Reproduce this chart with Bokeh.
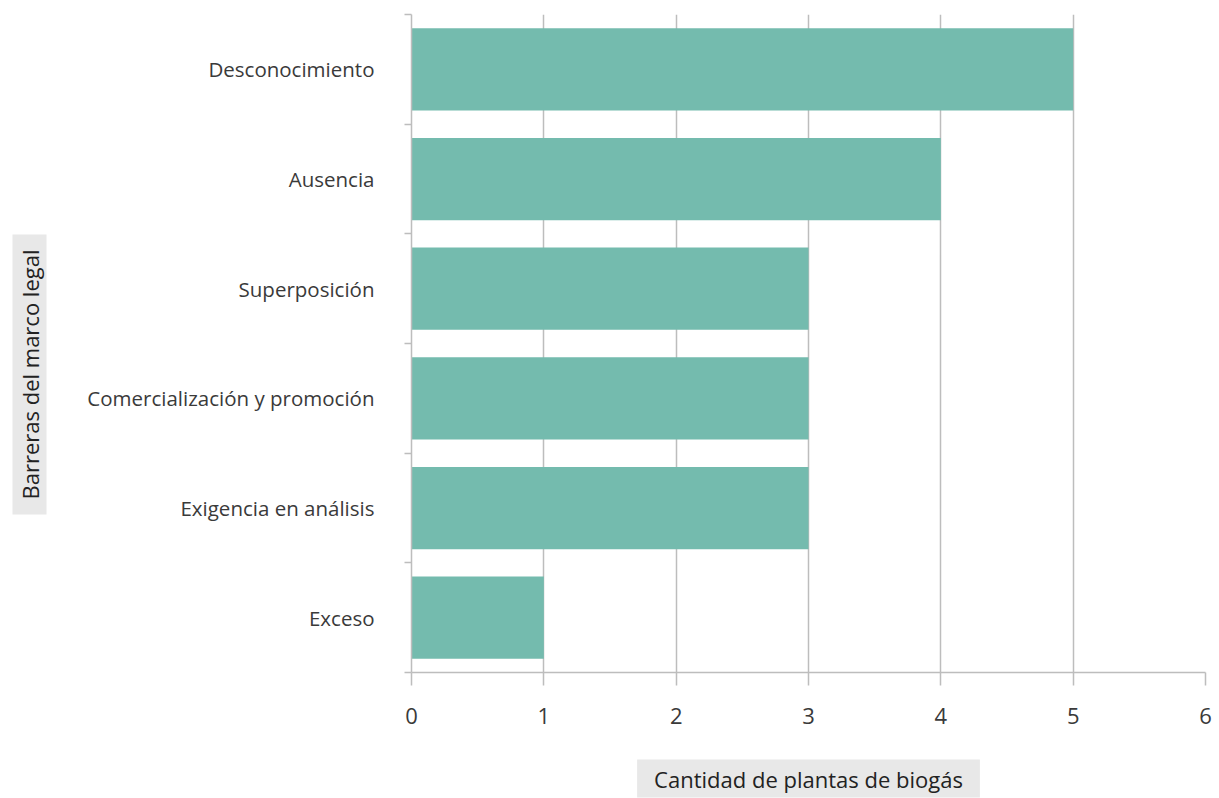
from bokeh.plotting import figure
from bokeh.models import FixedTicker, Title, Range1d, LinearAxis
from bokeh.embed import file_html
from bokeh.resources import INLINE

categories = ["Exceso", "Exigencia en análisis", "Comercialización y promoción",
              "Superposición", "Ausencia", "Desconocimiento"]
values = [1, 3, 3, 3, 4, 5]
x_ticks = [0, 1, 2, 3, 4, 5, 6]
x_title = "Cantidad de plantas de biogás"
y_title = "Barreras del marco legal"

positions = [i + 0.5 for i in range(len(categories))]
boundaries = list(range(len(categories) + 1))

FONT = "Open Sans"
TEXT = "#3a3a3a"
GRID = "#bdbdbd"

p = figure(width=1219, height=798, output_backend="svg", toolbar_location=None,
           x_range=Range1d(0, 6), y_range=Range1d(0, len(categories)),
           min_border_left=411, min_border_right=14, min_border_top=14,
           min_border_bottom=126)
p.outline_line_color = None

p.hbar(y=positions, right=values, left=0, height=0.75, color="#74BBAE", line_color=None)

# x axis
p.xaxis.ticker = FixedTicker(ticks=x_ticks)
p.xaxis.axis_line_color = GRID
p.xaxis.axis_line_width = 1.5
p.xaxis.major_tick_line_color = GRID
p.xaxis.major_tick_line_width = 1.5
p.xaxis.major_tick_in = 0
p.xaxis.major_tick_out = 13
p.xaxis.minor_tick_line_color = None
p.xaxis.major_label_text_font = FONT
p.xaxis.major_label_text_font_size = "22px"
p.xaxis.major_label_text_color = TEXT
p.xaxis.major_label_standoff = 22

# invisible spacer axis between tick labels and the x title
spacer = LinearAxis(ticker=FixedTicker(ticks=[x_ticks[0]]), axis_line_color=None,
                    major_tick_line_color=None, minor_tick_line_color=None,
                    major_tick_in=0, major_tick_out=31, minor_tick_out=0,
                    major_label_standoff=0,
                    major_label_overrides={x_ticks[0]: ""})
p.add_layout(spacer, "below")

# y axis: labels at centres, ticks at category boundaries
p.yaxis.ticker = FixedTicker(ticks=positions, minor_ticks=boundaries)
p.yaxis.major_label_overrides = {pos: cat for pos, cat in zip(positions, categories)}
p.yaxis.axis_line_color = GRID
p.yaxis.axis_line_width = 1.5
p.yaxis.major_tick_line_color = None
p.yaxis.major_tick_in = 0
p.yaxis.major_tick_out = 7
p.yaxis.minor_tick_line_color = GRID
p.yaxis.minor_tick_line_width = 1.5
p.yaxis.minor_tick_in = 0
p.yaxis.minor_tick_out = 7
p.yaxis.major_label_text_font = FONT
p.yaxis.major_label_text_font_size = "20.5px"
p.yaxis.major_label_text_color = TEXT
p.yaxis.major_label_standoff = 30

p.xgrid.ticker = FixedTicker(ticks=x_ticks)
p.xgrid.grid_line_color = GRID
p.xgrid.grid_line_width = 1.5
p.ygrid.grid_line_color = None

xt = Title(text=x_title, align="center",
           text_font=FONT, text_font_size="22px", text_font_style="normal",
           text_color="#222222", background_fill_color="#e8e8e8",
           padding=(17, 4), standoff=0, vertical_align="bottom")
p.add_layout(xt, "below")

yt = Title(text=y_title, align="left", offset=158,
           text_font=FONT, text_font_size="22px", text_font_style="normal",
           text_color="#222222", background_fill_color="#e8e8e8",
           padding=(15, 2), standoff=20, vertical_align="top")
p.add_layout(yt, "left")

open("out.html", "w").write(file_html(p, INLINE))
